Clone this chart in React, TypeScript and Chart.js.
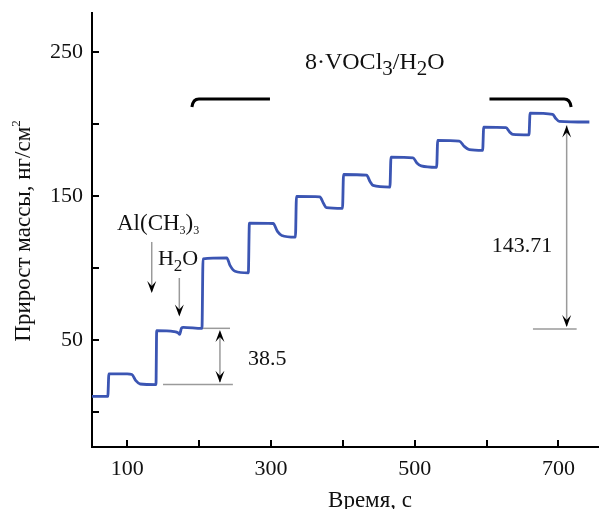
import React, { useEffect, useRef } from "react";
import { Chart, registerables } from "chart.js";
Chart.register(...registerables);

// ---- data ----
const timeSec = [
  51, 73, 74.5, 100, 106.5, 112, 118, 140,
  141, 165, 171, 173, 175.5, 178, 204,
  205.5, 238.5, 243, 250, 268.5,
  270, 303, 309, 315, 334,
  335.5, 368, 373, 377, 399.5,
  401, 433, 438, 442, 465.5,
  467, 497.7, 503, 509, 530.5,
  532, 562, 569, 576, 594.5,
  596, 627, 632, 636.5, 659,
  660.5, 692, 696, 701, 743,
];
const massGain = [
  11.1, 11.1, 26.7, 26.7, 26.3, 22, 19.7, 19.3,
  56.7, 56.0, 55.1, 54.2, 58.5, 59.0, 58.3,
  106.5, 107.2, 102, 97.9, 96.8,
  131.3, 131.0, 125.5, 122.7, 121.5,
  149.8, 149.5, 145, 142, 141.5,
  165, 164.5, 160, 157.4, 156.3,
  177, 176.5, 173, 171, 170,
  188.7, 188.2, 184.5, 182.2, 181.7,
  197.9, 197.5, 194.5, 192.8, 192.5,
  207.6, 206.7, 204, 201.9, 201.4,
];

const xTickLabels = [100, 300, 500, 700];
const yTickLabels = [50, 150, 250];
const xTickMarks = [100, 200, 300, 400, 500, 600, 700];
const yTickMarks = [0, 50, 100, 150, 200, 250];

const stepLabel = "38.5";
const totalLabel = "143.71";

// bracket (pulse marks) in data units: [x, y]
const bracketLeft = [[190, 211.8], [298.6, 217.4]];
const bracketRight = [[604, 217.4], [717.6, 211.8]];

const FONT = "'Liberation Serif', 'Times New Roman', serif";

type Part = { t: string; size: number; dy?: number };

function drawRich(ctx: CanvasRenderingContext2D, x: number, y: number, parts: Part[]) {
  let cx = x;
  ctx.textAlign = "left";
  ctx.textBaseline = "alphabetic";
  for (const p of parts) {
    ctx.font = `${p.size}px ${FONT}`;
    ctx.fillText(p.t, cx, y + (p.dy || 0));
    cx += ctx.measureText(p.t).width;
  }
}

function arrowHead(ctx: CanvasRenderingContext2D, x: number, y: number, dir: number) {
  // dir: -1 pointing up, +1 pointing down; (x,y) is the tip
  ctx.beginPath();
  ctx.moveTo(x, y);
  ctx.lineTo(x - 4.5, y - dir * 12);
  ctx.lineTo(x, y - dir * 7);
  ctx.lineTo(x + 4.5, y - dir * 12);
  ctx.closePath();
  ctx.fill();
}

const annotPlugin = {
  id: "annot",
  afterDatasetsDraw(chart: any) {
    const { ctx, chartArea } = chart;
    const xs = chart.scales.x;
    const ys = chart.scales.y;
    const px = (v: number) => xs.getPixelForValue(v);
    const py = (v: number) => ys.getPixelForValue(v);
    ctx.save();

    // inward tick marks
    ctx.strokeStyle = "#000";
    ctx.lineWidth = 2;
    for (const v of xTickMarks) {
      ctx.beginPath();
      ctx.moveTo(Math.round(px(v)), chartArea.bottom);
      ctx.lineTo(Math.round(px(v)), chartArea.bottom - 7);
      ctx.stroke();
    }
    for (const v of yTickMarks) {
      ctx.beginPath();
      ctx.moveTo(chartArea.left, Math.round(py(v)));
      ctx.lineTo(chartArea.left + 7, Math.round(py(v)));
      ctx.stroke();
    }

    // brackets
    ctx.lineWidth = 3;
    ctx.strokeStyle = "#000";
    {
      const [[x0, y0], [x1, y1]] = bracketLeft;
      ctx.beginPath();
      ctx.moveTo(px(x0), py(y0));
      ctx.quadraticCurveTo(px(x0) + 1, py(y1), px(x0) + 7, py(y1));
      ctx.lineTo(px(x1), py(y1));
      ctx.stroke();
    }
    {
      const [[x0, y0], [x1, y1]] = bracketRight;
      ctx.beginPath();
      ctx.moveTo(px(x0), py(y0));
      ctx.lineTo(px(x1) - 7, py(y0));
      ctx.quadraticCurveTo(px(x1) - 1, py(y0), px(x1), py(y1));
      ctx.stroke();
    }

    // gray helper lines and arrows
    ctx.strokeStyle = "#9a9a9a";
    ctx.fillStyle = "#000";
    ctx.lineWidth = 1.5;
    const hline = (a: number, b: number, yv: number) => {
      ctx.beginPath();
      ctx.moveTo(px(a), py(yv));
      ctx.lineTo(px(b), py(yv));
      ctx.stroke();
    };
    const vline = (xv: number, a: number, b: number) => {
      ctx.beginPath();
      ctx.moveTo(px(xv), py(a));
      ctx.lineTo(px(xv), py(b));
      ctx.stroke();
    };
    // Al(CH3)3 arrow
    vline(134.1, 118.2, 84);
    arrowHead(ctx, px(134.1), py(82.8), 1);
    // H2O arrow
    vline(172.5, 93.2, 68);
    arrowHead(ctx, px(172.5), py(66.5), 1);
    // 38.5 double arrow
    hline(205.4, 243, 58.3);
    hline(149.8, 247, 19.3);
    vline(229, 55, 21);
    arrowHead(ctx, px(229), py(57.2), -1);
    arrowHead(ctx, px(229), py(20.6), 1);
    // 143.71 arrow
    hline(664.5, 725.3, 57.9);
    vline(711.4, 199, 60);
    arrowHead(ctx, px(711.4), py(199), -1);
    arrowHead(ctx, px(711.4), py(59.2), 1);

    // texts
    ctx.fillStyle = "#111";
    drawRich(ctx, px(85.8), py(126.5), [
      { t: "Al(CH", size: 23 },
      { t: "3", size: 12, dy: 4 },
      { t: ")", size: 23 },
      { t: "3", size: 12, dy: 4 },
    ]);
    drawRich(ctx, px(142.8), py(102.2), [
      { t: "H", size: 22 },
      { t: "2", size: 17, dy: 6 },
      { t: "O", size: 22 },
    ]);
    drawRich(ctx, px(347.3), py(238.5), [
      { t: "8·VOCl", size: 24 },
      { t: "3", size: 21, dy: 6 },
      { t: "/H", size: 24 },
      { t: "2", size: 21, dy: 6 },
      { t: "O", size: 24 },
    ]);
    drawRich(ctx, px(268), py(32.9), [{ t: stepLabel, size: 22 }]);
    drawRich(ctx, px(607), py(111.5), [{ t: totalLabel, size: 22 }]);

    // axis titles
    ctx.font = `23px ${FONT}`;
    ctx.textAlign = "center";
    ctx.textBaseline = "alphabetic";
    ctx.fillText("Время, с", 370, 507);

    ctx.save();
    ctx.translate(30, 231);
    ctx.rotate(-Math.PI / 2);
    const main = "Прирост массы, нг/см";
    ctx.font = `23px ${FONT}`;
    const w1 = ctx.measureText(main).width;
    ctx.font = `13px ${FONT}`;
    const w2 = ctx.measureText("2").width;
    const start = -(w1 + w2) / 2;
    ctx.textAlign = "left";
    ctx.font = `23px ${FONT}`;
    ctx.fillText(main, start, 0);
    ctx.font = `13px ${FONT}`;
    ctx.fillText("2", start + w1, -10);
    ctx.restore();

    ctx.restore();
  },
};

export default function App() {
  const ref = useRef<HTMLCanvasElement | null>(null);
  useEffect(() => {
    if (!ref.current) return;
    const points = timeSec.map((t, i) => ({ x: t, y: massGain[i] }));
    const chart = new Chart(ref.current, {
      type: "line",
      data: {
        datasets: [
          {
            data: points,
            borderColor: "#3b55b3",
            borderWidth: 2.8,
            pointRadius: 0,
            cubicInterpolationMode: "monotone",
            fill: false,
          },
        ],
      },
      options: {
        animation: false,
        responsive: false,
        devicePixelRatio: 1,
        layout: { padding: { top: 13, right: 3, left: 0, bottom: 0 } },
        plugins: { legend: { display: false }, tooltip: { enabled: false } },
        scales: {
          x: {
            type: "linear",
            min: 51,
            max: 755,
            grid: { display: false, drawTicks: false },
            border: { display: true, color: "#000", width: 2 },
            ticks: {
              padding: 9,
              color: "#111",
              font: { family: FONT, size: 22 },
            },
            afterBuildTicks: (s: any) => {
              s.ticks = xTickLabels.map((v) => ({ value: v }));
            },
            afterFit: (s: any) => {
              s.height = 62;
              s.paddingLeft = 0;
              s.paddingRight = 0;
            },
          },
          y: {
            type: "linear",
            min: -24,
            max: 277,
            grid: { display: false, drawTicks: false },
            border: { display: true, color: "#000", width: 2 },
            ticks: {
              padding: 9,
              color: "#111",
              font: { family: FONT, size: 22 },
            },
            afterBuildTicks: (s: any) => {
              s.ticks = yTickLabels.map((v) => ({ value: v }));
            },
            afterFit: (s: any) => {
              s.width = 92;
              s.paddingTop = 0;
              s.paddingBottom = 0;
            },
          },
        },
      } as any,
      plugins: [annotPlugin],
    });
    return () => chart.destroy();
  }, []);
  return (
    <div style={{ position: "fixed", left: 0, top: 0, width: 601, height: 509, background: "#fff" }}>
      <canvas ref={ref} width={601} height={509} style={{ display: "block" }} />
    </div>
  );
}
